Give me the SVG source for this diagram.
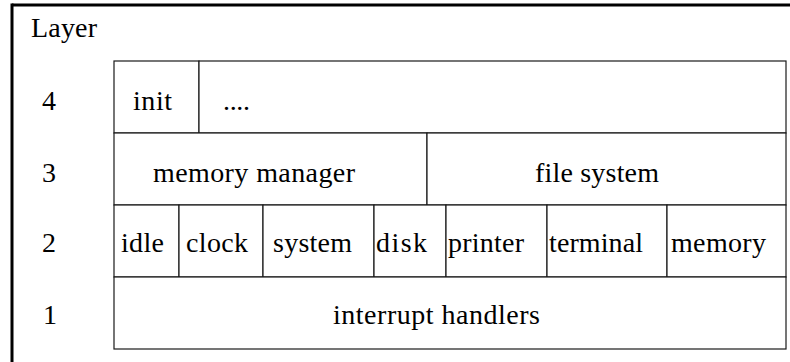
<svg xmlns="http://www.w3.org/2000/svg" width="790" height="362" viewBox="0 0 790 362">
<style>
  text { font-family: "Liberation Serif", "Times New Roman", "DejaVu Serif", serif; font-size: 28px; fill: #000; }
  .cell { fill: #fff; stroke: #1a1a1a; stroke-width: 1.2; }
  .lbl { text-anchor: middle; }
  .frame { fill: none; stroke: #000; stroke-width: 3; }
</style>
<rect width="790" height="362" fill="#fff"/>
<g id="frame">
  <line class="frame" x1="12" y1="5" x2="790" y2="5"/>
  <line class="frame" x1="12" y1="3.5" x2="12" y2="362"/>
</g>
<g id="layer-labels">
  <text x="31" y="37" textLength="66" lengthAdjust="spacing">Layer</text>
  <text class="lbl" x="49" y="110">4</text>
  <text class="lbl" x="49" y="182">3</text>
  <text class="lbl" x="49" y="252">2</text>
  <text class="lbl" x="50" y="324">1</text>
</g>
<g id="row4">
  <g id="init"><rect class="cell" x="114" y="61" width="85" height="72"/><text x="133" y="110" textLength="39" lengthAdjust="spacing">init</text></g>
  <g id="dots"><rect class="cell" x="199" y="61" width="587" height="72"/><text x="223" y="110" textLength="27" lengthAdjust="spacing">....</text></g>
</g>
<g id="row3">
  <g id="memory-manager"><rect class="cell" x="114" y="133" width="313" height="72"/><text x="153" y="182" textLength="202" lengthAdjust="spacing">memory manager</text></g>
  <g id="file-system"><rect class="cell" x="427" y="133" width="359" height="72"/><text x="535" y="182" textLength="124" lengthAdjust="spacing">file system</text></g>
</g>
<g id="row2">
  <g id="idle"><rect class="cell" x="114" y="205" width="65" height="72"/><text x="121" y="252" textLength="43" lengthAdjust="spacing">idle</text></g>
  <g id="clock"><rect class="cell" x="179" y="205" width="84" height="72"/><text x="186" y="252" textLength="62" lengthAdjust="spacing">clock</text></g>
  <g id="system"><rect class="cell" x="263" y="205" width="111" height="72"/><text x="273" y="252" textLength="79" lengthAdjust="spacing">system</text></g>
  <g id="disk"><rect class="cell" x="374" y="205" width="72" height="72"/><text x="376" y="252" textLength="51" lengthAdjust="spacing">disk</text></g>
  <g id="printer"><rect class="cell" x="446" y="205" width="101" height="72"/><text x="448" y="252" textLength="76" lengthAdjust="spacing">printer</text></g>
  <g id="terminal"><rect class="cell" x="547" y="205" width="120" height="72"/><text x="549" y="252" textLength="94" lengthAdjust="spacing">terminal</text></g>
  <g id="memory"><rect class="cell" x="667" y="205" width="119" height="72"/><text x="671" y="252" textLength="95" lengthAdjust="spacing">memory</text></g>
</g>
<g id="row1">
  <g id="interrupt-handlers"><rect class="cell" x="114" y="277" width="672" height="72"/><text x="333" y="324" textLength="207" lengthAdjust="spacing">interrupt handlers</text></g>
</g>
<g id="connectors"></g>
</svg>
